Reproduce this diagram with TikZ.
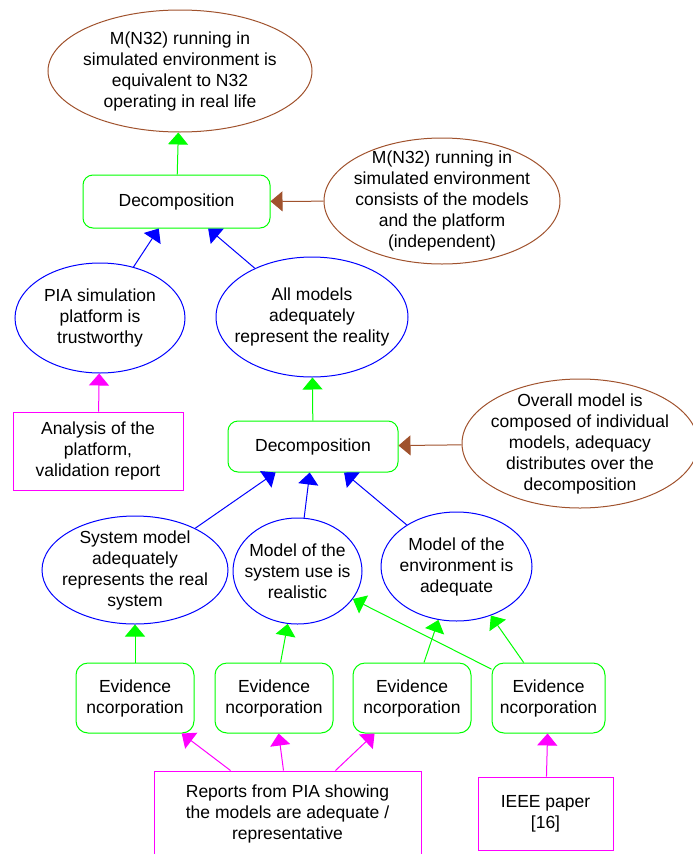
\documentclass[tikz,border=0pt]{standalone}
\usepackage{fontspec}
\setmainfont{Liberation Sans}
\usetikzlibrary{shapes.geometric,arrows.meta}

\definecolor{evgreen}{RGB}{0,255,0}
\definecolor{goalblue}{RGB}{0,0,255}
\definecolor{solmag}{RGB}{255,0,255}
\definecolor{ctxbrown}{RGB}{160,82,45}

\begin{document}
\begin{tikzpicture}[x=1pt,y=-1pt,
	font=\fontsize{17.5}{21}\selectfont,
	goal/.style={shape=ellipse,draw=goalblue,line width=1pt,inner sep=-40pt,align=center},
	context/.style={shape=ellipse,draw=ctxbrown,line width=1pt,inner sep=-40pt,align=center},
	strategy/.style={shape=rectangle,rounded corners=10pt,draw=evgreen,line width=1pt,align=center},
	solution/.style={shape=rectangle,draw=solmag,line width=1pt,align=center},
	supp/.style={-{Triangle[width=20pt,length=12pt]},line width=1pt}]

	\useasboundingbox (0,0) rectangle (693,854);

	% top level
	\node[context,minimum width=264pt,minimum height=122pt] (top) at (180,71)
		{M(N32) running in\\simulated environment is\\equivalent to N32\\operating in real life};
	\node[strategy,minimum width=187pt,minimum height=53pt] (dec1) at (176.5,201.5) {Decomposition};
	\node[context,minimum width=236pt,minimum height=126pt] (ctx1) at (442,201)
		{M(N32) running in\\simulated environment\\consists of the models\\and the platform\\(independent)};

	% platform and models
	\node[goal,minimum width=170pt,minimum height=110pt] (pia) at (100,318) {PIA simulation\\platform is\\trustworthy};
	\node[goal,minimum width=192pt,minimum height=120pt] (models) at (312,317) {All models\\adequately\\represent the reality};
	\node[solution,minimum width=170pt,minimum height=78pt] (anal) at (98,451) {Analysis of the\\platform,\\validation report};
	\node[strategy,minimum width=170pt,minimum height=51pt] (dec2) at (313,446.5) {Decomposition};
	\node[context,minimum width=236pt,minimum height=129pt] (ctx2) at (580,443.5)
		{Overall model is\\composed of individual\\models, adequacy\\distributes over the\\decomposition};

	% sub models
	\node[goal,minimum width=186pt,minimum height=108pt] (sysm) at (135,570) {System model\\adequately\\represents the real\\system};
	\node[goal,minimum width=129pt,minimum height=106pt] (use) at (297.5,571) {Model of the\\system use is\\realistic};
	\node[goal,minimum width=151pt,minimum height=109pt] (env) at (456.5,566.5) {Model of the\\environment is\\adequate};

	% evidence
	\node[strategy,rounded corners=12pt,minimum width=118pt,minimum height=70pt] (ev1) at (135,698) {Evidence\\ncorporation};
	\node[strategy,rounded corners=12pt,minimum width=118pt,minimum height=70pt] (ev2) at (274,698) {Evidence\\ncorporation};
	\node[strategy,rounded corners=12pt,minimum width=118pt,minimum height=70pt] (ev3) at (412,698) {Evidence\\ncorporation};
	\node[strategy,rounded corners=12pt,minimum width=113pt,minimum height=70pt] (ev4) at (548.5,698) {Evidence\\ncorporation};
	\node[solution,minimum width=267pt,minimum height=86pt] (rep) at (287.5,814) {Reports from PIA showing\\the models are adequate /\\representative};
	\node[solution,minimum width=135pt,minimum height=73pt] (ieee) at (545.5,813.5) {IEEE paper\\{[16]}};

	\draw[supp,evgreen] (dec1) -- (top);
	\draw[supp,ctxbrown] (ctx1) -- (dec1);
	\draw[supp,goalblue] (pia) -- (dec1);
	\draw[supp,goalblue] (models) -- (dec1);
	\draw[supp,solmag] (anal) -- (pia);
	\draw[supp,evgreen] (dec2) -- (models);
	\draw[supp,ctxbrown] (ctx2) -- (dec2);

	\draw[supp,goalblue] (sysm) -- (dec2);
	\draw[supp,goalblue] (use) -- (dec2);
	\draw[supp,goalblue] (env) -- (dec2);

	\draw[supp,evgreen] (ev1) -- (sysm);
	\draw[supp,evgreen] (ev2) -- (use);
	\draw[supp,evgreen] (ev3) -- (env);
	\draw[supp,evgreen] (ev4) -- (env);
	\draw[supp,evgreen] (ev4) -- (use);

	\draw[supp,solmag] ([xshift=-57pt]rep.north) -- (ev1);
	\draw[supp,solmag] ([xshift=-4pt]rep.north) -- (ev2);
	\draw[supp,solmag] ([xshift=48pt]rep.north) -- (ev3);
	\draw[supp,solmag] (ieee) -- (ev4);

\end{tikzpicture}
\end{document}
